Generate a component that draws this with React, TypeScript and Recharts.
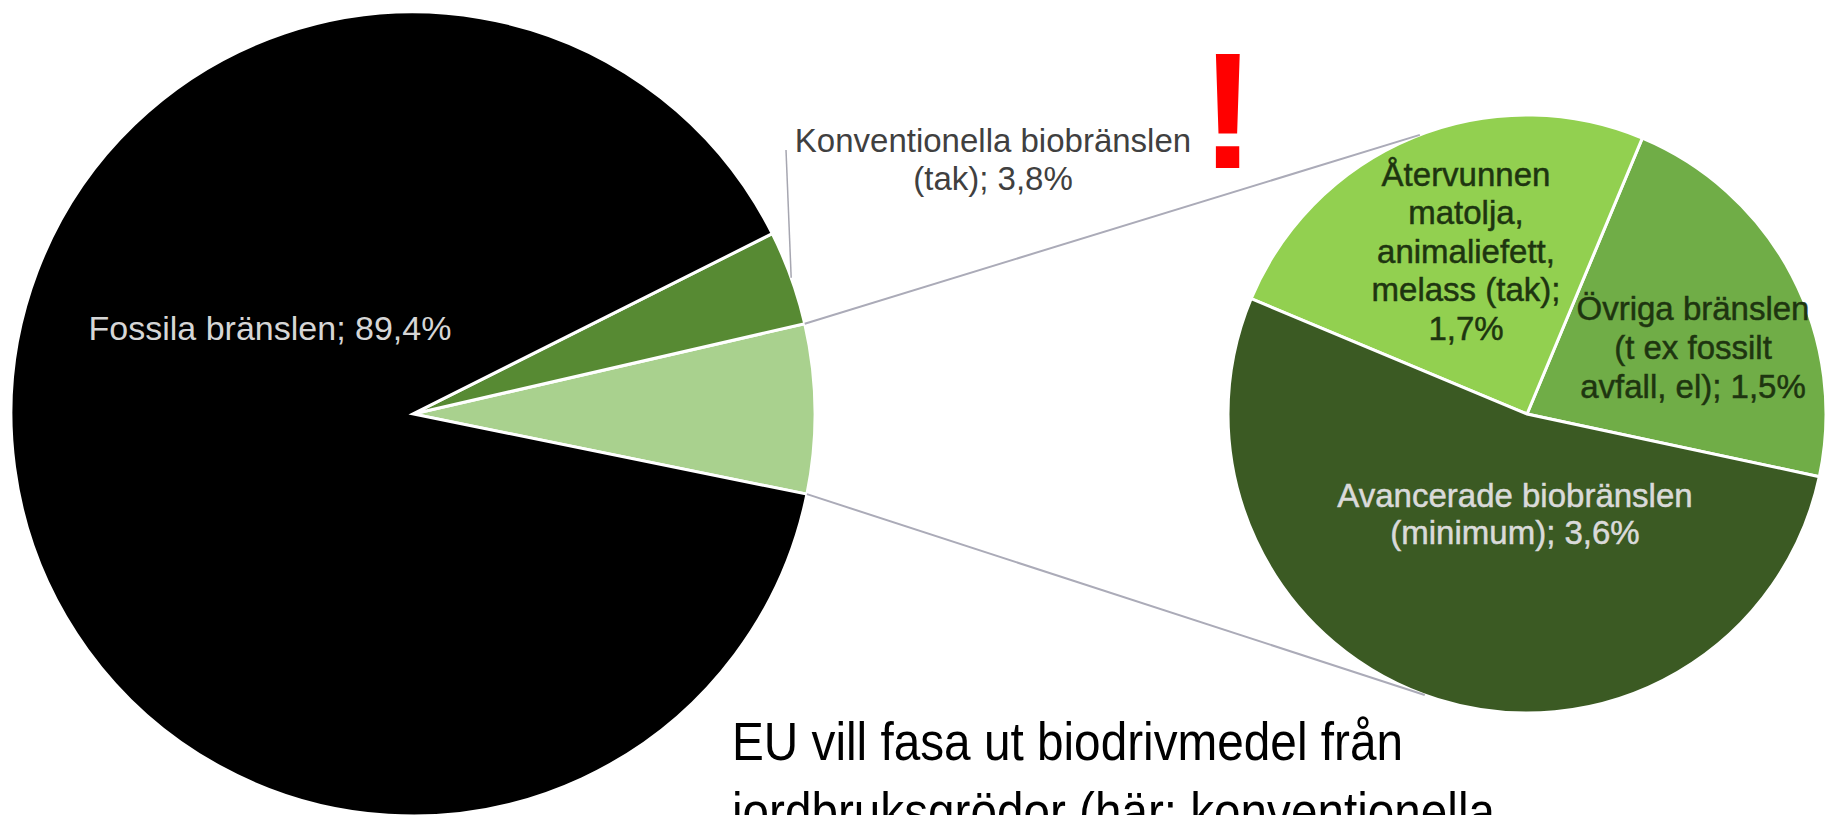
import { PieChart, Pie, Cell } from "recharts";

// main pie: the light slice is the sum of the split-out pie
const subNames = [
  "Övriga bränslen (t ex fossilt avfall, el)",
  "Återvunnen matolja, animaliefett, melass (tak)",
  "Avancerade biobränslen (minimum)",
];
const subValues = [1.5, 1.7, 3.6];
const subColors = ["#70ad47", "#92d050", "#3b5a23"];

const mainNames = ["Övrigt", "Konventionella biobränslen (tak)", "Fossila bränslen"];
const mainValues = [subValues.reduce((a, b) => a + b, 0), 3.8, 89.4];
const mainColors = ["#a9d18e", "#578a33", "#000000"];

// label line breaks, the value is appended to the last line
const mainLabelLines = [[], ["Konventionella biobränslen", "(tak); "], ["Fossila bränslen;"]];
const subLabelLines = [
  ["Övriga bränslen", "(t ex fossilt", "avfall, el);"],
  ["Återvunnen", "matolja,", "animaliefett,", "melass (tak);", ""],
  ["Avancerade biobränslen", "(minimum);"],
];

const captionLines = ["EU vill fasa ut biodrivmedel från", "jordbruksgrödor (här: konventionella"];

const W = 1827;
const H = 815;
const LEFT = { cx: 413, cy: 414, r: 402, start: -11.5 };
const RIGHT = { cx: 1527, cy: 414, r: 299, start: -12.1 };
const FONT = "'Liberation Sans', Arial, sans-serif";
const RAD = Math.PI / 180;

const fmt = (v: number) => v.toFixed(1).replace(".", ",") + "%";
const polar = (cx: number, cy: number, r: number, deg: number) => ({
  x: cx + r * Math.cos(deg * RAD),
  y: cy - r * Math.sin(deg * RAD),
});

const mainData = mainNames.map((name, i) => ({ name, value: mainValues[i] }));
const subData = subNames.map((name, i) => ({ name, value: subValues[i] }));

const withValue = (lines: string[], v: number) =>
  lines.map((l, i) => (i === lines.length - 1 ? (l + " " + fmt(v)).trim() : l));

const renderMainLabel = (p: any) => {
  const { cx, cy, index, midAngle, outerRadius } = p;
  const total = mainValues.reduce((a, b) => a + b, 0);
  if (index === 0) {
    // connector lines to the split-out pie
    const a0 = LEFT.start;
    const a1 = LEFT.start + (mainValues[0] / total) * 360;
    const p0 = polar(cx, cy, outerRadius, a1);
    const p1 = polar(cx, cy, outerRadius, a0);
    const q0 = polar(RIGHT.cx, RIGHT.cy, RIGHT.r, 111);
    const q1 = polar(RIGHT.cx, RIGHT.cy, RIGHT.r, 250);
    return (
      <g key="conn">
        <line x1={p0.x} y1={p0.y} x2={q0.x} y2={q0.y} stroke="#ababb8" strokeWidth={2} />
        <line x1={p1.x} y1={p1.y} x2={q1.x} y2={q1.y} stroke="#ababb8" strokeWidth={2} />
      </g>
    );
  }
  const lines = withValue(mainLabelLines[index], mainValues[index]);
  if (index === 1) {
    const e = polar(cx, cy, outerRadius, midAngle);
    return (
      <g key="konv">
        <line x1={e.x} y1={e.y} x2={cx + 373} y2={cy - 264} stroke="#a6a6b0" strokeWidth={1.5} />
        {lines.map((l, i) => (
          <text key={i} x={cx + 580} y={cy - 274 + i * 38} textAnchor="middle" dominantBaseline="central"
            fontFamily={FONT} fontSize={33} fill="#404040">{l}</text>
        ))}
      </g>
    );
  }
  return (
    <text key="fos" x={cx - 143} y={cy - 86} textAnchor="middle" dominantBaseline="central"
      fontFamily={FONT} fontSize={34} fill="#d6d6d6">{lines[0]}</text>
  );
};

const subLabelPos = [
  { dx: 166, dy: -106, step: 39, fill: "#1e3510" },
  { dx: -61, dy: -240, step: 38.5, fill: "#1e3510" },
  { dx: -12, dy: 81, step: 37, fill: "#dadada" },
];

const renderSubLabel = (p: any) => {
  const { cx, cy, index } = p;
  const pos = subLabelPos[index];
  const lines = withValue(subLabelLines[index], subValues[index]);
  return (
    <g key={"sub" + index}>
      {lines.map((l, i) => (
        <text key={i} x={cx + pos.dx} y={cy + pos.dy + i * pos.step} textAnchor="middle" dominantBaseline="central"
          fontFamily={FONT} fontSize={33} fill={pos.fill} stroke={pos.fill} strokeWidth={0.5}>{l}</text>
      ))}
    </g>
  );
};

export default function App() {
  return (
    <div style={{ position: "absolute", left: 0, top: 0, width: W, height: H, overflow: "hidden", background: "#fff" }}>
      <PieChart width={W} height={H} margin={{ top: 0, right: 0, bottom: 0, left: 0 }}>
        <Pie
          data={mainData}
          dataKey="value"
          nameKey="name"
          cx={LEFT.cx}
          cy={LEFT.cy}
          outerRadius={LEFT.r}
          startAngle={LEFT.start}
          endAngle={LEFT.start + 360}
          stroke="#ffffff"
          strokeWidth={3}
          label={renderMainLabel}
          labelLine={false}
          isAnimationActive={false}
        >
          {mainData.map((d, i) => (
            <Cell key={d.name} fill={mainColors[i]} />
          ))}
        </Pie>
        <Pie
          data={subData}
          dataKey="value"
          nameKey="name"
          cx={RIGHT.cx}
          cy={RIGHT.cy}
          outerRadius={RIGHT.r}
          startAngle={RIGHT.start}
          endAngle={RIGHT.start + 360}
          stroke="#ffffff"
          strokeWidth={3}
          label={renderSubLabel}
          labelLine={false}
          isAnimationActive={false}
        >
          {subData.map((d, i) => (
            <Cell key={d.name} fill={subColors[i]} />
          ))}
        </Pie>
      </PieChart>
      <svg width={W} height={H} style={{ position: "absolute", left: 0, top: 0, pointerEvents: "none" }}>
        <text x={1228} y={168} textAnchor="middle" fontFamily={FONT} fontWeight="bold" fontSize={166} fill="#ff0000">!</text>
        {captionLines.map((l, i) => (
          <text key={i} x={732} y={760 + i * 70} fontFamily={FONT} fontSize={53} fill="#000"
            textLength={i === 0 ? 671 : 763} lengthAdjust="spacingAndGlyphs">{l}</text>
        ))}
      </svg>
    </div>
  );
}
